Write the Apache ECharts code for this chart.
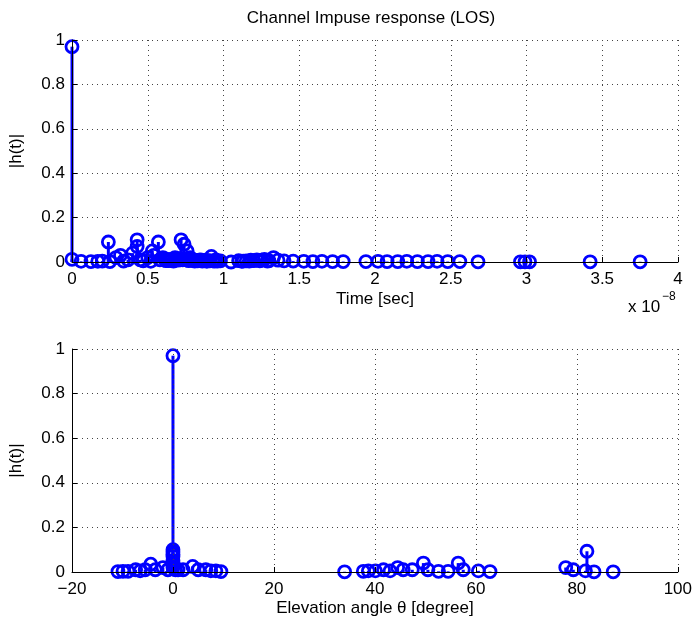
<!DOCTYPE html>
<html>
<head>
<meta charset="utf-8">
<script src="https://cdn.jsdelivr.net/npm/echarts@6/dist/echarts.min.js"></script>
<style>
  html, body { margin: 0; padding: 0; background: #fff; }
  #chart { width: 695px; height: 620px; }
</style>
</head>
<body>
<div id="chart"></div>
<script>
// Arrival delays (in units of 1e-8 s) and their path gains |h(t)|
const delays = [
  0, 0, 0.06, 0.125, 0.17, 0.20, 0.24, 0.25, 0.29, 0.32, 0.34, 0.37, 0.40, 0.43, 0.43,
  0.45, 0.47, 0.50, 0.52, 0.53, 0.54, 0.57, 0.58, 0.60, 0.61, 0.62, 0.63, 0.64, 0.65, 0.66,
  0.67, 0.68, 0.69, 0.70, 0.71, 0.72, 0.73, 0.74, 0.75, 0.76, 0.77, 0.78, 0.79, 0.80, 0.81,
  0.82, 0.83, 0.84, 0.85, 0.86, 0.87, 0.88, 0.89, 0.90, 0.91, 0.92, 0.93, 0.94, 0.95, 0.96,
  0.98, 1.05, 1.10, 1.12, 1.13, 1.15, 1.17, 1.18, 1.20, 1.22, 1.24, 1.25, 1.27, 1.29, 1.30,
  1.33, 1.36, 1.40, 1.46, 1.53, 1.59, 1.65, 1.72, 1.79, 1.94, 2.02, 2.08, 2.15, 2.21,
  2.28, 2.35, 2.41, 2.48, 2.56, 2.68, 2.96, 2.99, 3.02, 3.42, 3.75
];
const delayGains = [
  0.97, 0.012, 0.003, 0.002, 0.003, 0.004, 0.09, 0.002, 0.02, 0.03, 0.004, 0.01, 0.04, 0.10, 0.07,
  0.01, 0.005, 0.02, 0.003, 0.05, 0.03, 0.09, 0.01, 0.02, 0.015, 0.006, 0.012, 0.006, 0.01, 0.012,
  0.004, 0.02, 0.01, 0.008, 0.015, 0.10, 0.01, 0.08, 0.012, 0.05, 0.006, 0.02, 0.008, 0.01, 0.004,
  0.006, 0.005, 0.008, 0.01, 0.004, 0.006, 0.008, 0.003, 0.006, 0.005, 0.025, 0.005, 0.004, 0.01, 0.004,
  0.005, 0.0, 0.006, 0.003, 0.004, 0.005, 0.004, 0.008, 0.006, 0.01, 0.005, 0.008, 0.012, 0.004, 0.006,
  0.02, 0.008, 0.005, 0.004, 0.003, 0.002, 0.003, 0.002, 0.002, 0.002, 0.003, 0.002, 0.002, 0.003,
  0.002, 0.002, 0.003, 0.002, 0.002, 0.001, 0.001, 0.001, 0.001, 0.001, 0.001
];

// Elevation angles of arrival (degrees) and their gains
const angles = [
  -10.9, -9.9, -8.9, -7.4, -6.5, -5.5, -4.4, -3.5, -2, -1, 0, 0, 0, 0, 0, 0, 0, 0, 0,
  0.5, 1, 2, 3.9, 5, 6.5, 7.5, 8.5, 9.5,
  34, 37.7, 38.7, 40.1, 41.7, 43, 44.5, 45.6, 47.4, 49.6, 50.5, 52.6, 54.5, 56.5, 57.5, 60.5, 62.8,
  77.8, 79.3, 81.7, 82.0, 83.4, 87.2
];
const angleGains = [
  0.002, 0.003, 0.003, 0.01, 0.005, 0.01, 0.035, 0.01, 0.02, 0.01, 0.97, 0.10, 0.09, 0.08, 0.07, 0.05, 0.04, 0.03, 0.02,
  0.01, 0.01, 0.01, 0.025, 0.01, 0.01, 0.005, 0.005, 0.002,
  0.001, 0.003, 0.005, 0.005, 0.01, 0.005, 0.02, 0.01, 0.01, 0.04, 0.01, 0.003, 0.003, 0.04, 0.01, 0.005, 0.002,
  0.02, 0.01, 0.005, 0.093, 0.001, 0.001
];

const BLUE = '#0000ff';
const FONT = 'Liberation Sans, Arial, Helvetica, sans-serif';
const FS = 17;

const pairs = (xs, ys) => xs.map((x, i) => [x, ys[i]]);
const minus = v => (v < 0 ? '\u2212' + (-v) : String(v));

function stemSeries(idx, data) {
  return [
    {
      type: 'custom',
      xAxisIndex: idx, yAxisIndex: idx,
      data: data,
      z: 2,
      renderItem: function (params, api) {
        const x = api.value(0), y = api.value(1);
        const p0 = api.coord([x, 0]);
        const p1 = api.coord([x, y]);
        return {
          type: 'line',
          shape: { x1: p0[0], y1: p0[1], x2: p1[0], y2: p1[1] },
          style: { stroke: BLUE, lineWidth: 3 }
        };
      }
    },
    {
      type: 'scatter',
      xAxisIndex: idx, yAxisIndex: idx,
      data: data,
      z: 3,
      symbol: 'circle',
      symbolSize: 12,
      itemStyle: { color: 'rgba(0,0,0,0)', borderColor: BLUE, borderWidth: 2.8, opacity: 1 },
      emphasis: { disabled: true }
    }
  ];
}

const gridLine = { show: true, lineStyle: { color: '#444', width: 1, type: [1, 4] } };
const axisLine = { show: true, onZero: false, lineStyle: { color: '#000', width: 1 } };
const axisTick = { show: true, inside: true, length: 5, lineStyle: { color: '#000' } };
const label = { color: '#000', fontFamily: FONT, fontSize: FS };
const nameStyle = { color: '#000', fontFamily: FONT, fontSize: FS };

const chart = echarts.init(document.getElementById('chart'), null, { renderer: 'canvas' });
chart.setOption({
  animation: false,
  backgroundColor: '#fff',
  title: {
    text: 'Channel Impuse response (LOS)',
    left: 366, top: 5, textAlign: 'center',
    textStyle: { color: '#000', fontFamily: FONT, fontSize: FS, fontWeight: 'normal' }
  },
  grid: [
    { left: 71, width: 607, top: 40, height: 222 },
    { left: 71, width: 607, top: 349, height: 223 }
  ],
  xAxis: [
    {
      gridIndex: 0, type: 'value', min: 0, max: 4, interval: 0.5, z: 5,
      name: 'Time [sec]', nameLocation: 'middle', nameGap: 29, nameTextStyle: nameStyle,
      axisLine, axisTick, splitLine: gridLine,
      axisLabel: Object.assign({ margin: 9 }, label)
    },
    {
      gridIndex: 1, type: 'value', min: -20, max: 100, interval: 20, z: 5,
      name: 'Elevation angle \u03b8 [degree]', nameLocation: 'middle', nameGap: 28, nameTextStyle: nameStyle,
      axisLine, axisTick, splitLine: gridLine,
      axisLabel: Object.assign({ margin: 9, formatter: minus }, label)
    }
  ],
  yAxis: [0, 1].map(i => ({
    gridIndex: i, type: 'value', min: 0, max: 1, interval: 0.2, z: 5,
    name: '|h(t)|', nameLocation: 'middle', nameGap: 47, nameTextStyle: nameStyle,
    axisLine, axisTick, splitLine: gridLine,
    axisLabel: Object.assign({ margin: 7 }, label)
  })),
  graphic: [
    {
      type: 'text', left: 628, top: 299,
      style: { text: 'x 10', fill: '#000', font: FS + 'px ' + FONT }
    },
    {
      type: 'text', left: 662, top: 291,
      style: { text: '\u22128', fill: '#000', font: '12px ' + FONT }
    }
  ],
  series: [].concat(
    stemSeries(0, pairs(delays, delayGains)),
    stemSeries(1, pairs(angles, angleGains))
  )
});
</script>
</body>
</html>
